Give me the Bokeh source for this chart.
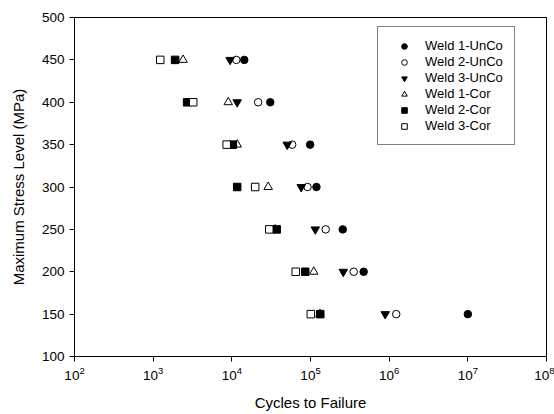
from bokeh.plotting import figure
from bokeh.models import Range1d, FixedTicker, Legend, LegendItem, ColumnDataSource
from bokeh.embed import file_html
from bokeh.resources import INLINE

stress = [450, 400, 350, 300, 250, 200, 150]

weld1_unco = [14400, 30800, 99000, 119000, 257000, 474000, 1.0e7]
weld2_unco = [11400, 21600, 58500, 91800, 156000, 354000, 1.23e6]
weld3_unco = [9500, 11700, 50600, 76200, 115000, 261000, 891000]
weld1_cor = [2400, 9000, 11700, 29000, 35600, 110000, 132000]
weld2_cor = [1900, 2700, 10300, 11700, 37200, 85700, 133000]
weld3_cor = [1230, 3230, 8600, 19800, 29900, 64900, 101000]

series_names = ["Weld 1-UnCo", "Weld 2-UnCo", "Weld 3-UnCo",
                "Weld 1-Cor", "Weld 2-Cor", "Weld 3-Cor"]
series_values = [weld1_unco, weld2_unco, weld3_unco, weld1_cor, weld2_cor, weld3_cor]
markers = ["circle", "circle", "inverted_triangle", "triangle", "square", "square"]
fills = ["black", "white", "black", "white", "black", "white"]
sizes = [7.5, 7.5, 8.5, 8.5, 7.5, 7.5]

x_ticks = [1e2, 1e3, 1e4, 1e5, 1e6, 1e7, 1e8]
y_ticks = [100, 150, 200, 250, 300, 350, 400, 450, 500]

FONT = "Liberation Sans"

p = figure(width=554, height=414, x_axis_type="log",
           x_range=Range1d(1e2, 1e8), y_range=Range1d(100, 500),
           output_backend="svg", toolbar_location=None,
           min_border_left=74, min_border_right=8,
           min_border_top=17, min_border_bottom=58)
p.background_fill_color = "white"
p.border_fill_color = "white"
p.outline_line_color = "black"
p.outline_line_width = 1
p.xgrid.visible = False
p.ygrid.visible = False

items = []
for name, vals, mk, fc, sz in zip(series_names, series_values, markers, fills, sizes):
    src = ColumnDataSource(dict(x=vals, y=stress))
    r = p.scatter("x", "y", source=src, marker=mk, size=sz,
                  fill_color=fc, line_color="black", line_width=1)
    items.append(LegendItem(label=name, renderers=[r]))

legend = Legend(items=items, location=(303, 211))
legend.label_text_font = FONT
legend.label_text_font_size = "13px"
legend.label_text_color = "black"
legend.border_line_color = "black"
legend.border_line_width = 1
legend.background_fill_color = "white"
legend.background_fill_alpha = 1
legend.padding = 11
legend.spacing = 1
legend.glyph_width = 30
legend.glyph_height = 14
legend.label_height = 14
legend.label_standoff = 6
legend.margin = 0
p.add_layout(legend, "center")

p.xaxis.ticker = FixedTicker(ticks=x_ticks)
p.yaxis.ticker = FixedTicker(ticks=y_ticks)
for ax in (p.xaxis, p.yaxis):
    ax.axis_line_color = "black"
    ax.major_tick_line_color = "black"
    ax.major_tick_in = 0
    ax.major_tick_out = 5
    ax.minor_tick_line_color = None
    ax.major_label_text_font = FONT
    ax.major_label_text_font_size = "13.5px"
    ax.major_label_text_color = "black"
    ax.major_label_standoff = 5
    ax.axis_label_text_font = FONT
    ax.axis_label_text_font_size = "15px"
    ax.axis_label_text_font_style = "normal"
    ax.axis_label_text_color = "black"

p.xaxis.axis_label = "Cycles to Failure"
p.yaxis.axis_label = "Maximum Stress Level (MPa)"
p.xaxis.axis_label_standoff = 11
p.yaxis.axis_label_standoff = 12

open("out.html", "w").write(file_html(p, INLINE))
